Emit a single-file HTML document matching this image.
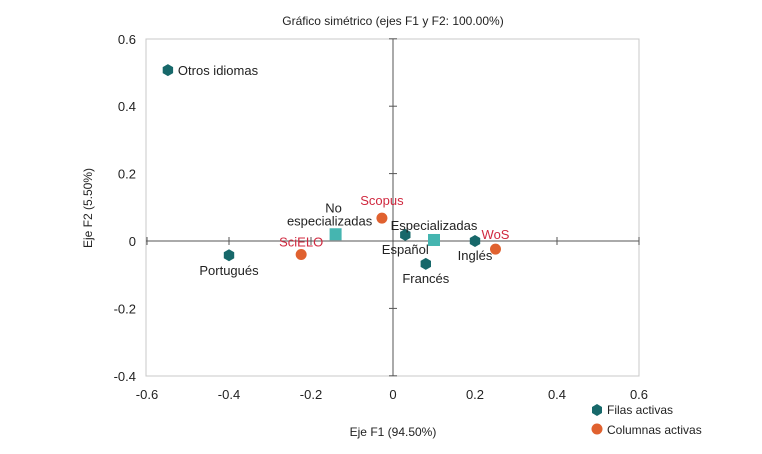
<!DOCTYPE html>
<html><head><meta charset="utf-8"><style>
body{margin:0;background:#fff;font-family:"Liberation Sans",sans-serif}
svg text{font-family:"Liberation Sans",sans-serif}
</style></head><body>
<svg width="762" height="449" viewBox="0 0 762 449">
<text x="393" y="25" font-size="12" text-anchor="middle" fill="#222">Gráfico simétrico (ejes F1 y F2: 100.00%)</text>
<rect x="146" y="39" width="493" height="337" fill="none" stroke="#c8c8c8"/>
<g id="axes"></g>
<g id="marks"></g>
<text x="393" y="436" font-size="12" text-anchor="middle" fill="#222">Eje F1 (94.50%)</text>
<text transform="translate(92,208) rotate(-90)" font-size="12" text-anchor="middle" fill="#222">Eje F2 (5.50%)</text>
<g>
<polygon points="597,404 602,407 602,413 597,416 592,413 592,407" fill="#17686a"/>
<text x="607" y="414" font-size="12" fill="#222">Filas activas</text>
<circle cx="597" cy="429" r="5.5" fill="#e0612f"/>
<text x="607" y="434" font-size="12" fill="#222">Columnas activas</text>
</g>
</svg>
<script>
const xTicks=[-0.6,-0.4,-0.2,0,0.2,0.4,0.6];
const yTicks=[0.6,0.4,0.2,0,-0.2,-0.4];
const rowNames=["Otros idiomas","Portugués","Español","Francés","Inglés"];
const rowX=[-0.549,-0.40,0.03,0.08,0.20];
const rowY=[0.507,-0.042,0.018,-0.068,0.0];
const colNames=["Scopus","SciELO","WoS"];
const colX=[-0.027,-0.224,0.25];
const colY=[0.068,-0.04,-0.024];
const supNames=["No especializadas","Especializadas"];
const supX=[-0.14,0.10];
const supY=[0.02,0.003];
const sx=v=>393+v*410, sy=v=>241-v*337;
const NS="http://www.w3.org/2000/svg";
const axes=document.getElementById('axes'), marks=document.getElementById('marks');
function mk(tag,attrs,parent,txt){const e=document.createElementNS(NS,tag);for(const k in attrs)e.setAttribute(k,attrs[k]);if(txt!==undefined)e.textContent=txt;parent.appendChild(e);return e;}
let l=mk('line',{x1:146,x2:639,y1:sy(0),y2:sy(0),stroke:'#555'},axes);


l=mk('line',{x1:sx(0),x2:sx(0),y1:39,y2:376,stroke:'#555'},axes);


xTicks.forEach(v=>{
 const t=mk('line',{x1:sx(v),x2:sx(v),y1:sy(0)-4,y2:sy(0)+4,stroke:'#555'},axes);
 
 
 const tx=mk('text',{x:sx(v),y:399,'font-size':13,'text-anchor':'middle',fill:'#222'},axes,String(v));
 
 
});
yTicks.forEach(v=>{
 const t=mk('line',{x1:sx(0)-4,x2:sx(0)+4,y1:sy(v),y2:sy(v),stroke:'#555'},axes);
 
 
 const tx=mk('text',{x:136,y:sy(v)+5,'font-size':13,'text-anchor':'end',fill:'#222'},axes,String(v));
 
 
});
function hex(cx,cy,r){const p=[];for(let i=0;i<6;i++){const a=Math.PI/3*i-Math.PI/2;p.push((cx+r*Math.cos(a)).toFixed(1)+','+(cy+r*Math.sin(a)).toFixed(1));}return p.join(' ');}
const rowLab=[[10,5,'start'],[0,20,'middle'],[0,19,'middle'],[0,19,'middle'],[0,19,'middle']];
rowNames.forEach((n,i)=>{
 const x=sx(rowX[i]),y=sy(rowY[i]);
 const h=mk('polygon',{points:hex(x,y,6),fill:'#17686a'},marks);
 
 
 const t=mk('text',{x:x+rowLab[i][0],y:y+rowLab[i][1],'font-size':13,'text-anchor':rowLab[i][2],fill:'#222'},marks,n);
 
 
});
const colLab=[[0,-13],[0,-8],[0,-10]];
colNames.forEach((n,i)=>{
 const x=sx(colX[i]),y=sy(colY[i]);
 const c=mk('circle',{cx:x,cy:y,r:5.5,fill:'#e0612f'},marks);
 
 
 const t=mk('text',{x:x+colLab[i][0],y:y+colLab[i][1],'font-size':13,'text-anchor':'middle',fill:'#d0283f'},marks,n);
 
 
});
supNames.forEach((n,i)=>{
 const x=sx(supX[i]),y=sy(supY[i]);
 const s=mk('rect',{x:x-6,y:y-6,width:12,height:12,fill:'#45b5b0'},marks);
 
 
});
let t=mk('text',{x:sx(supX[0])-2,y:sy(supY[0])-22,'font-size':13,'text-anchor':'middle',fill:'#222'},marks,'No');


t=mk('text',{x:sx(supX[0])-6,y:sy(supY[0])-9,'font-size':13,'text-anchor':'middle',fill:'#222'},marks,'especializadas');


t=mk('text',{x:sx(supX[1]),y:sy(supY[1])-10,'font-size':13,'text-anchor':'middle',fill:'#222'},marks,'Especializadas');


</script>
</body></html>
